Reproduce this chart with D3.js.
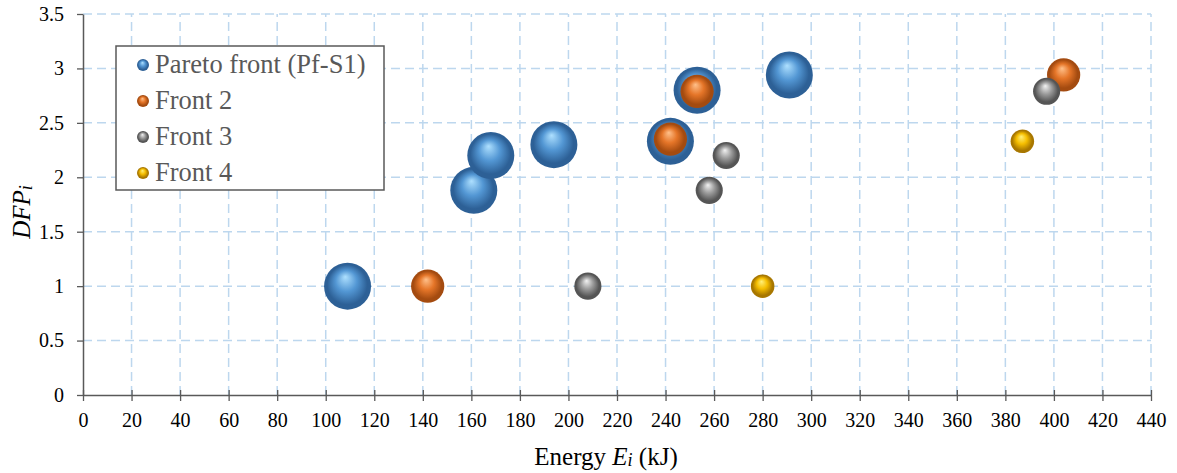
<!DOCTYPE html>
<html>
<head>
<meta charset="utf-8">
<script src="https://cdn.jsdelivr.net/npm/d3@7/dist/d3.min.js"></script>
<style>
  html, body { margin: 0; padding: 0; background: #fff; }
  svg { display: block; }
</style>
</head>
<body>
<svg id="chart" width="1177" height="473"></svg>
<script>
// ---- data ----
const seriesNames = ["Pareto front (Pf-S1)", "Front 2", "Front 3", "Front 4"];
const paretoEnergy = [109, 161, 168, 194, 242, 253, 291];
const paretoDFP    = [1.0, 1.88, 2.2, 2.3, 2.33, 2.8, 2.94];
const front2Energy = [142, 242, 253, 404];
const front2DFP    = [1.0, 2.35, 2.79, 2.94];
const front3Energy = [208, 258, 265, 397];
const front3DFP    = [1.0, 1.88, 2.2, 2.79];
const front4Energy = [280, 387];
const front4DFP    = [1.0, 2.33];
const bubbleSize   = [1, 0.5, 0.333, 0.25]; // per series
const xTicks = d3.range(0, 441, 20);
const yTicks = [0, 0.5, 1, 1.5, 2, 2.5, 3, 3.5];

const seriesEnergy = [paretoEnergy, front2Energy, front3Energy, front4Energy];
const seriesDFP = [paretoDFP, front2DFP, front3DFP, front4DFP];

const FONT = '"Liberation Serif"';
const palette = [
  {hi: "#aee0ff", mid: "#5397d4", lo: "#2d6096"},
  {hi: "#ffc08a", mid: "#e57528", lo: "#a44b10"},
  {hi: "#f2f2f2", mid: "#9a9a9a", lo: "#555555"},
  {hi: "#fff07a", mid: "#f5be00", lo: "#a87700"}
];

const svg = d3.select("#chart");
const x = d3.scaleLinear().domain([0, 440]).range([83, 1151]);
const y = d3.scaleLinear().domain([0, 3.5]).range([395, 14]);
const r = d3.scaleSqrt().domain([0, 1]).range([0, 23.5]);

// gradients
const defs = svg.append("defs");
palette.forEach((p, i) => {
  const g = defs.append("radialGradient").attr("id", "g" + i)
    .attr("cx", "50%").attr("cy", "50%").attr("r", "50%")
    .attr("fx", "45%").attr("fy", "30%");
  g.append("stop").attr("offset", "0%").attr("stop-color", p.hi);
  g.append("stop").attr("offset", "45%").attr("stop-color", p.mid);
  g.append("stop").attr("offset", "85%").attr("stop-color", p.lo);
  g.append("stop").attr("offset", "100%").attr("stop-color", p.lo);
});

// gridlines
const grid = svg.append("g");
grid.selectAll(".hg").data(yTicks.filter(d => d > 0)).join("line")
  .attr("x1", x(0)).attr("x2", x(440))
  .attr("y1", d => y(d)).attr("y2", d => y(d))
  .attr("stroke", "#bdd7ee").attr("stroke-width", 1.5).attr("stroke-dasharray", "9,5");
grid.selectAll(".vg").data(xTicks.filter(d => d > 0)).join("line")
  .attr("x1", d => x(d)).attr("x2", d => x(d))
  .attr("y1", y(0)).attr("y2", y(3.5))
  .attr("stroke", "#bdd7ee").attr("stroke-width", 1.5).attr("stroke-dasharray", "9,5");

// axes
const xAxis = svg.append("g").attr("transform", `translate(0,${y(0)})`)
  .call(d3.axisBottom(x).tickValues(xTicks).tickSize(6).tickSizeOuter(0).tickPadding(12).tickFormat(d => d));
xAxis.attr("font-family", FONT);
xAxis.select(".domain").attr("stroke", "#595959").attr("stroke-width", 1.5);
xAxis.selectAll(".tick line").attr("stroke", "#595959").attr("stroke-width", 1.3).attr("y1", -5).attr("y2", 6);
xAxis.selectAll(".tick text").attr("font-size", 20).attr("fill", "#000").attr("font-family", FONT);

const yAxis = svg.append("g").attr("transform", `translate(${x(0)},0)`)
  .call(d3.axisLeft(y).tickValues(yTicks).tickSize(6).tickSizeOuter(0).tickPadding(13).tickFormat(d => String(d)));
yAxis.attr("font-family", FONT);
yAxis.select(".domain").attr("stroke", "#595959").attr("stroke-width", 1.5);
yAxis.selectAll(".tick line").attr("stroke", "#595959").attr("stroke-width", 1.3);
yAxis.selectAll(".tick text").attr("font-size", 20).attr("fill", "#000").attr("font-family", FONT);

// bubbles
seriesEnergy.forEach((es, si) => {
  const pts = es.map((e, j) => ({e, v: seriesDFP[si][j]}));
  svg.append("g").selectAll("circle").data(pts).join("circle")
    .attr("cx", d => x(d.e)).attr("cy", d => y(d.v))
    .attr("r", r(bubbleSize[si]))
    .attr("fill", `url(#g${si})`);
});

// axis titles
const xt = svg.append("text").attr("x", 606).attr("y", 465).attr("font-family", FONT)
  .attr("text-anchor", "middle").attr("font-size", 25).attr("fill", "#000");
xt.append("tspan").text("Energy ");
xt.append("tspan").attr("font-style", "italic").text("E");
xt.append("tspan").attr("font-style", "italic").attr("font-size", 18).attr("dy", 1).text("i");
xt.append("tspan").attr("dy", -1).text(" (kJ)");

const yt = svg.append("text").attr("transform", "translate(30,212) rotate(-90)").attr("font-family", FONT)
  .attr("text-anchor", "middle").attr("font-size", 25).attr("fill", "#000");
yt.append("tspan").attr("font-style", "italic").text("DFP");
yt.append("tspan").attr("font-style", "italic").attr("font-size", 18).attr("dy", 2).text("i");

// legend
const lg = svg.append("g");
lg.append("rect").attr("x", 116).attr("y", 46).attr("width", 268).attr("height", 144)
  .attr("fill", "#fff").attr("stroke", "#595959").attr("stroke-width", 1.5);
seriesNames.forEach((name, i) => {
  const cy = 65 + i * 36;
  lg.append("circle").attr("cx", 143).attr("cy", cy).attr("r", 6).attr("fill", `url(#g${i})`);
  lg.append("text").attr("x", 155).attr("y", cy + 8).attr("font-family", FONT)
    .attr("font-size", 26.5).attr("fill", "#595959").text(name);
});
</script>
</body>
</html>
